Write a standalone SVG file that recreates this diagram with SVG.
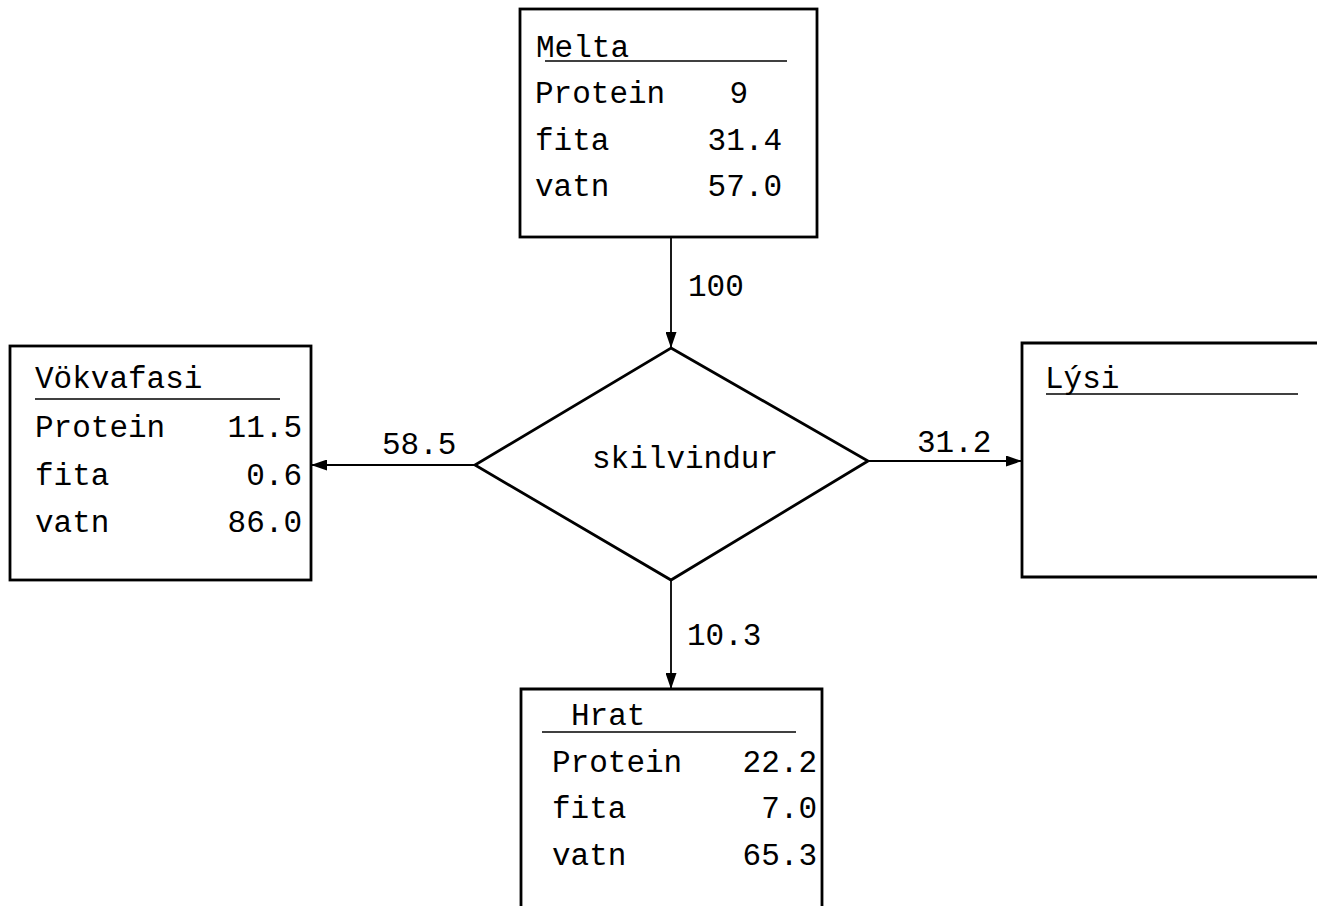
<svg xmlns="http://www.w3.org/2000/svg" width="1317" height="906" viewBox="0 0 1317 906">
<style>
.box{fill:none;stroke:#000;stroke-width:2.8}
.ul{stroke:#000;stroke-width:1.6}
.t{font-family:"Liberation Mono","Courier New",monospace;font-size:31px;fill:#000}
.n{font-family:"Liberation Mono","Courier New",monospace;font-size:31px;fill:#000;text-anchor:end}
.c{stroke:#000;stroke-width:1.8;fill:none}
</style>
<defs>
<marker id="ah" viewBox="0 0 16 11" refX="16" refY="5.5" markerWidth="16" markerHeight="11" markerUnits="userSpaceOnUse" orient="auto">
<path d="M0,0 L16,5.5 L0,11 Z" fill="#000"/>
</marker>
</defs>
<rect width="1317" height="906" fill="#fff"/>
<g id="melta">
<rect class="box" x="520" y="9" width="297" height="228"/>
<text class="t" x="536" y="57">Melta</text>
<line class="ul" x1="545" y1="61" x2="787" y2="61"/>
<text class="t" x="535" y="103">Protein</text>
<text class="n" x="748" y="103">9</text>
<text class="t" x="535" y="150">fita</text>
<text class="n" x="782" y="150">31.4</text>
<text class="t" x="535" y="196">vatn</text>
<text class="n" x="782" y="196">57.0</text>
</g>
<g id="vokvafasi">
<rect class="box" x="10" y="346" width="301" height="234"/>
<text class="t" x="35" y="388">Vökvafasi</text>
<line class="ul" x1="35" y1="399" x2="280" y2="399"/>
<text class="t" x="35" y="437">Protein</text>
<text class="n" x="302" y="437">11.5</text>
<text class="t" x="35" y="485">fita</text>
<text class="n" x="302" y="485">0.6</text>
<text class="t" x="35" y="532">vatn</text>
<text class="n" x="302" y="532">86.0</text>
</g>
<g id="skilvindur">
<path class="box" d="M671,348 L868,461 L671,580 L475,465 Z"/>
<text class="t" x="685" y="468" text-anchor="middle">skilvindur</text>
</g>
<g id="lysi">
<path class="box" d="M1320,343 L1022,343 L1022,577 L1320,577"/>
<text class="t" x="1045" y="388">Lýsi</text>
<line class="ul" x1="1046" y1="394" x2="1298" y2="394"/>
</g>
<g id="hrat">
<path class="box" d="M521,910 L521,689 L822,689 L822,910"/>
<text class="t" x="571" y="725">Hrat</text>
<line class="ul" x1="542" y1="732" x2="796" y2="732"/>
<text class="t" x="552" y="772">Protein</text>
<text class="n" x="817" y="772">22.2</text>
<text class="t" x="552" y="818">fita</text>
<text class="n" x="817" y="818">7.0</text>
<text class="t" x="552" y="865">vatn</text>
<text class="n" x="817" y="865">65.3</text>
</g>
<g id="connectors">
<line class="c" x1="671" y1="237" x2="671" y2="348" marker-end="url(#ah)"/>
<text class="t" x="688" y="296">100</text>
<line class="c" x1="475" y1="465" x2="311" y2="465" marker-end="url(#ah)"/>
<text class="t" x="382" y="454">58.5</text>
<line class="c" x1="868" y1="461" x2="1022" y2="461" marker-end="url(#ah)"/>
<text class="t" x="917" y="452">31.2</text>
<line class="c" x1="671" y1="580" x2="671" y2="689" marker-end="url(#ah)"/>
<text class="t" x="687" y="645">10.3</text>
</g>
</svg>
